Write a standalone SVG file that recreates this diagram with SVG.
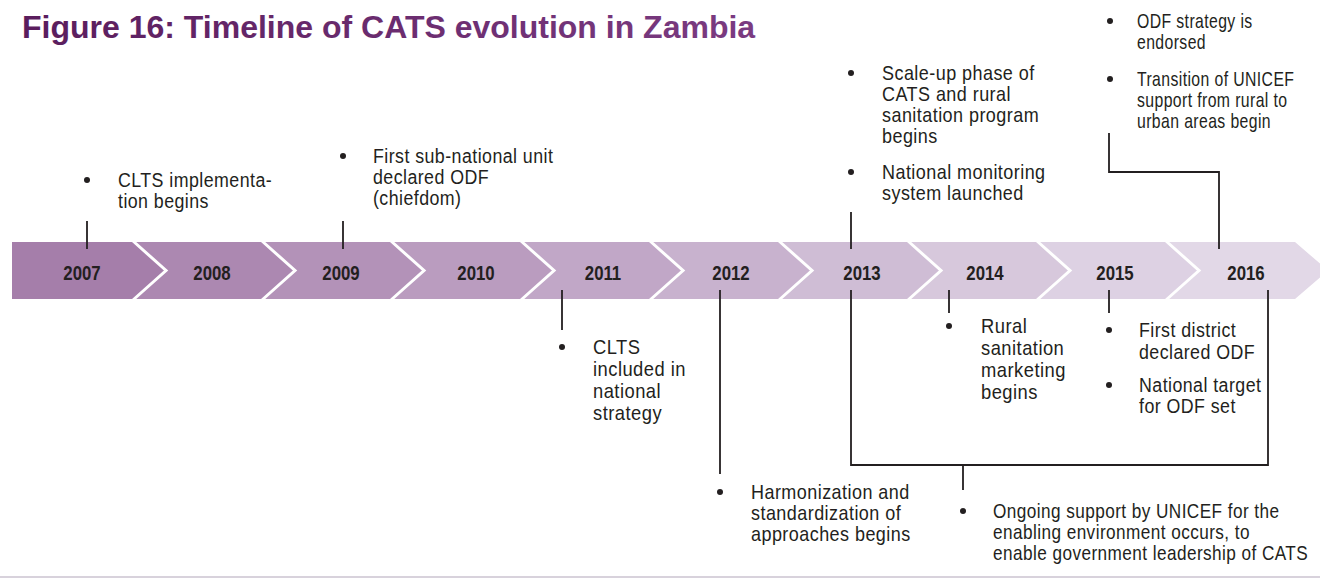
<svg xmlns="http://www.w3.org/2000/svg" width="1320" height="583" viewBox="0 0 1320 583">
<defs>
<linearGradient id="tg" x1="0" y1="0" x2="1" y2="0">
<stop offset="0" stop-color="#5a1d5d"/>
<stop offset="1" stop-color="#7b3b81"/>
</linearGradient>
<style>
.yr{font-family:"Liberation Sans",Arial,sans-serif;font-weight:bold;font-size:21px;fill:#231f20;text-anchor:middle}
.tx{font-family:"Liberation Sans",Arial,sans-serif;font-size:20px;fill:#231f20;letter-spacing:0.5px}
.bu{fill:#231f20}
.sep{fill:none;stroke:#ffffff;stroke-width:3}
.ln{fill:none;stroke:#231f20;stroke-width:1.8}
</style>
</defs>
<rect width="1320" height="583" fill="#ffffff"/>
<g id="title">
<text x="22" y="38" font-family="Liberation Sans, Arial, sans-serif" font-weight="bold" font-size="32" fill="url(#tg)">Figure 16: Timeline of CATS evolution in Zambia</text>
</g>
<g id="band">
<g id="y2007"><polygon points="12,242 133,242 166,270.5 133,299 12,299" fill="#A57EAA"/><text class="yr" transform="translate(82 280) scale(0.8 1)">2007</text></g>
<g id="y2008"><polygon points="133,242 262,242 295,270.5 262,299 133,299 166,270.5" fill="#AC88B1"/><text class="yr" transform="translate(212 280) scale(0.8 1)">2008</text></g>
<g id="y2009"><polygon points="262,242 391,242 424,270.5 391,299 262,299 295,270.5" fill="#B392B8"/><text class="yr" transform="translate(341 280) scale(0.8 1)">2009</text></g>
<g id="y2010"><polygon points="391,242 521,242 554,270.5 521,299 391,299 424,270.5" fill="#BA9CBF"/><text class="yr" transform="translate(476 280) scale(0.8 1)">2010</text></g>
<g id="y2011"><polygon points="521,242 650,242 683,270.5 650,299 521,299 554,270.5" fill="#C1A7C7"/><text class="yr" transform="translate(603 280) scale(0.8 1)">2011</text></g>
<g id="y2012"><polygon points="650,242 779,242 812,270.5 779,299 650,299 683,270.5" fill="#C8B2CE"/><text class="yr" transform="translate(731 280) scale(0.8 1)">2012</text></g>
<g id="y2013"><polygon points="779,242 908,242 941,270.5 908,299 779,299 812,270.5" fill="#CFBDD5"/><text class="yr" transform="translate(862 280) scale(0.8 1)">2013</text></g>
<g id="y2014"><polygon points="908,242 1037,242 1070,270.5 1037,299 908,299 941,270.5" fill="#D7C8DC"/><text class="yr" transform="translate(985 280) scale(0.8 1)">2014</text></g>
<g id="y2015"><polygon points="1037,242 1166,242 1199,270.5 1166,299 1037,299 1070,270.5" fill="#DDD1E3"/><text class="yr" transform="translate(1115 280) scale(0.8 1)">2015</text></g>
<g id="y2016"><polygon points="1166,242 1295,242 1328,270.5 1295,299 1166,299 1199,270.5" fill="#E2D8E7"/><text class="yr" transform="translate(1246 280) scale(0.8 1)">2016</text></g>
<polyline class="sep" points="133,241 166,270.5 133,300"/>
<polyline class="sep" points="262,241 295,270.5 262,300"/>
<polyline class="sep" points="391,241 424,270.5 391,300"/>
<polyline class="sep" points="521,241 554,270.5 521,300"/>
<polyline class="sep" points="650,241 683,270.5 650,300"/>
<polyline class="sep" points="779,241 812,270.5 779,300"/>
<polyline class="sep" points="908,241 941,270.5 908,300"/>
<polyline class="sep" points="1037,241 1070,270.5 1037,300"/>
<polyline class="sep" points="1166,241 1199,270.5 1166,300"/>
</g>
<g id="connectors">
<polyline class="ln" points="87,221 87,249"/>
<polyline class="ln" points="343,221 343,249"/>
<polyline class="ln" points="851,212 851,249"/>
<polyline class="ln" points="1109,133 1109,172 1219,172 1219,249"/>
<polyline class="ln" points="562,290 562,330"/>
<polyline class="ln" points="720,290 720,474"/>
<polyline class="ln" points="851,290 851,465 1268,465 1268,290"/>
<polyline class="ln" points="963,465 963,490"/>
<polyline class="ln" points="949,290 949,313"/>
<polyline class="ln" points="1109,290 1109,313"/>
</g>
<g id="e2007">
<circle class="bu" cx="87" cy="180" r="3"/>
<g transform="translate(118 0) scale(0.89 1)">
<text class="tx" x="0" y="187">CLTS implementa-</text>
<text class="tx" x="0" y="208">tion begins</text>
</g>
</g>
<g id="e2009">
<circle class="bu" cx="343" cy="156" r="3"/>
<g transform="translate(373 0) scale(0.89 1)">
<text class="tx" x="0" y="163">First sub-national unit</text>
<text class="tx" x="0" y="184">declared ODF</text>
<text class="tx" x="0" y="205">(chiefdom)</text>
</g>
</g>
<g id="e2013">
<circle class="bu" cx="851" cy="73" r="3"/>
<circle class="bu" cx="851" cy="172" r="3"/>
<g transform="translate(882 0) scale(0.9 1)">
<text class="tx" x="0" y="80">Scale-up phase of</text>
<text class="tx" x="0" y="101">CATS and rural</text>
<text class="tx" x="0" y="122">sanitation program</text>
<text class="tx" x="0" y="143">begins</text>
<text class="tx" x="0" y="179">National monitoring</text>
<text class="tx" x="0" y="200">system launched</text>
</g>
</g>
<g id="e2016">
<circle class="bu" cx="1110" cy="21" r="3"/>
<circle class="bu" cx="1110" cy="79" r="3"/>
<g transform="translate(1137 0) scale(0.79 1)">
<text class="tx" x="0" y="28">ODF strategy is</text>
<text class="tx" x="0" y="49">endorsed</text>
<text class="tx" x="0" y="86">Transition of UNICEF</text>
<text class="tx" x="0" y="107">support from rural to</text>
<text class="tx" x="0" y="128">urban areas begin</text>
</g>
</g>
<g id="e2011">
<circle class="bu" cx="562" cy="347" r="3"/>
<g transform="translate(593 0) scale(0.92 1)">
<text class="tx" x="0" y="354">CLTS</text>
<text class="tx" x="0" y="376">included in</text>
<text class="tx" x="0" y="398">national</text>
<text class="tx" x="0" y="420">strategy</text>
</g>
</g>
<g id="e2012">
<circle class="bu" cx="720" cy="492" r="3"/>
<g transform="translate(751 0) scale(0.9 1)">
<text class="tx" x="0" y="499">Harmonization and</text>
<text class="tx" x="0" y="520">standardization of</text>
<text class="tx" x="0" y="541">approaches begins</text>
</g>
</g>
<g id="e2014">
<circle class="bu" cx="949" cy="326" r="3"/>
<g transform="translate(981 0) scale(0.92 1)">
<text class="tx" x="0" y="333">Rural</text>
<text class="tx" x="0" y="355">sanitation</text>
<text class="tx" x="0" y="377">marketing</text>
<text class="tx" x="0" y="399">begins</text>
</g>
</g>
<g id="e2015">
<circle class="bu" cx="1109" cy="330" r="3"/>
<circle class="bu" cx="1109" cy="385" r="3"/>
<g transform="translate(1139 0) scale(0.89 1)">
<text class="tx" x="0" y="337">First district</text>
<text class="tx" x="0" y="359">declared ODF</text>
<text class="tx" x="0" y="392">National target</text>
<text class="tx" x="0" y="413">for ODF set</text>
</g>
</g>
<g id="eSupport">
<circle class="bu" cx="963" cy="511" r="3"/>
<g transform="translate(993 0) scale(0.86 1)">
<text class="tx" x="0" y="518">Ongoing support by UNICEF for the</text>
<text class="tx" x="0" y="539">enabling environment occurs, to</text>
<text class="tx" x="0" y="560">enable government leadership of CATS</text>
</g>
</g>
<line x1="0" y1="577" x2="1320" y2="577" stroke="#d8d2dc" stroke-width="2"/>
</svg>
